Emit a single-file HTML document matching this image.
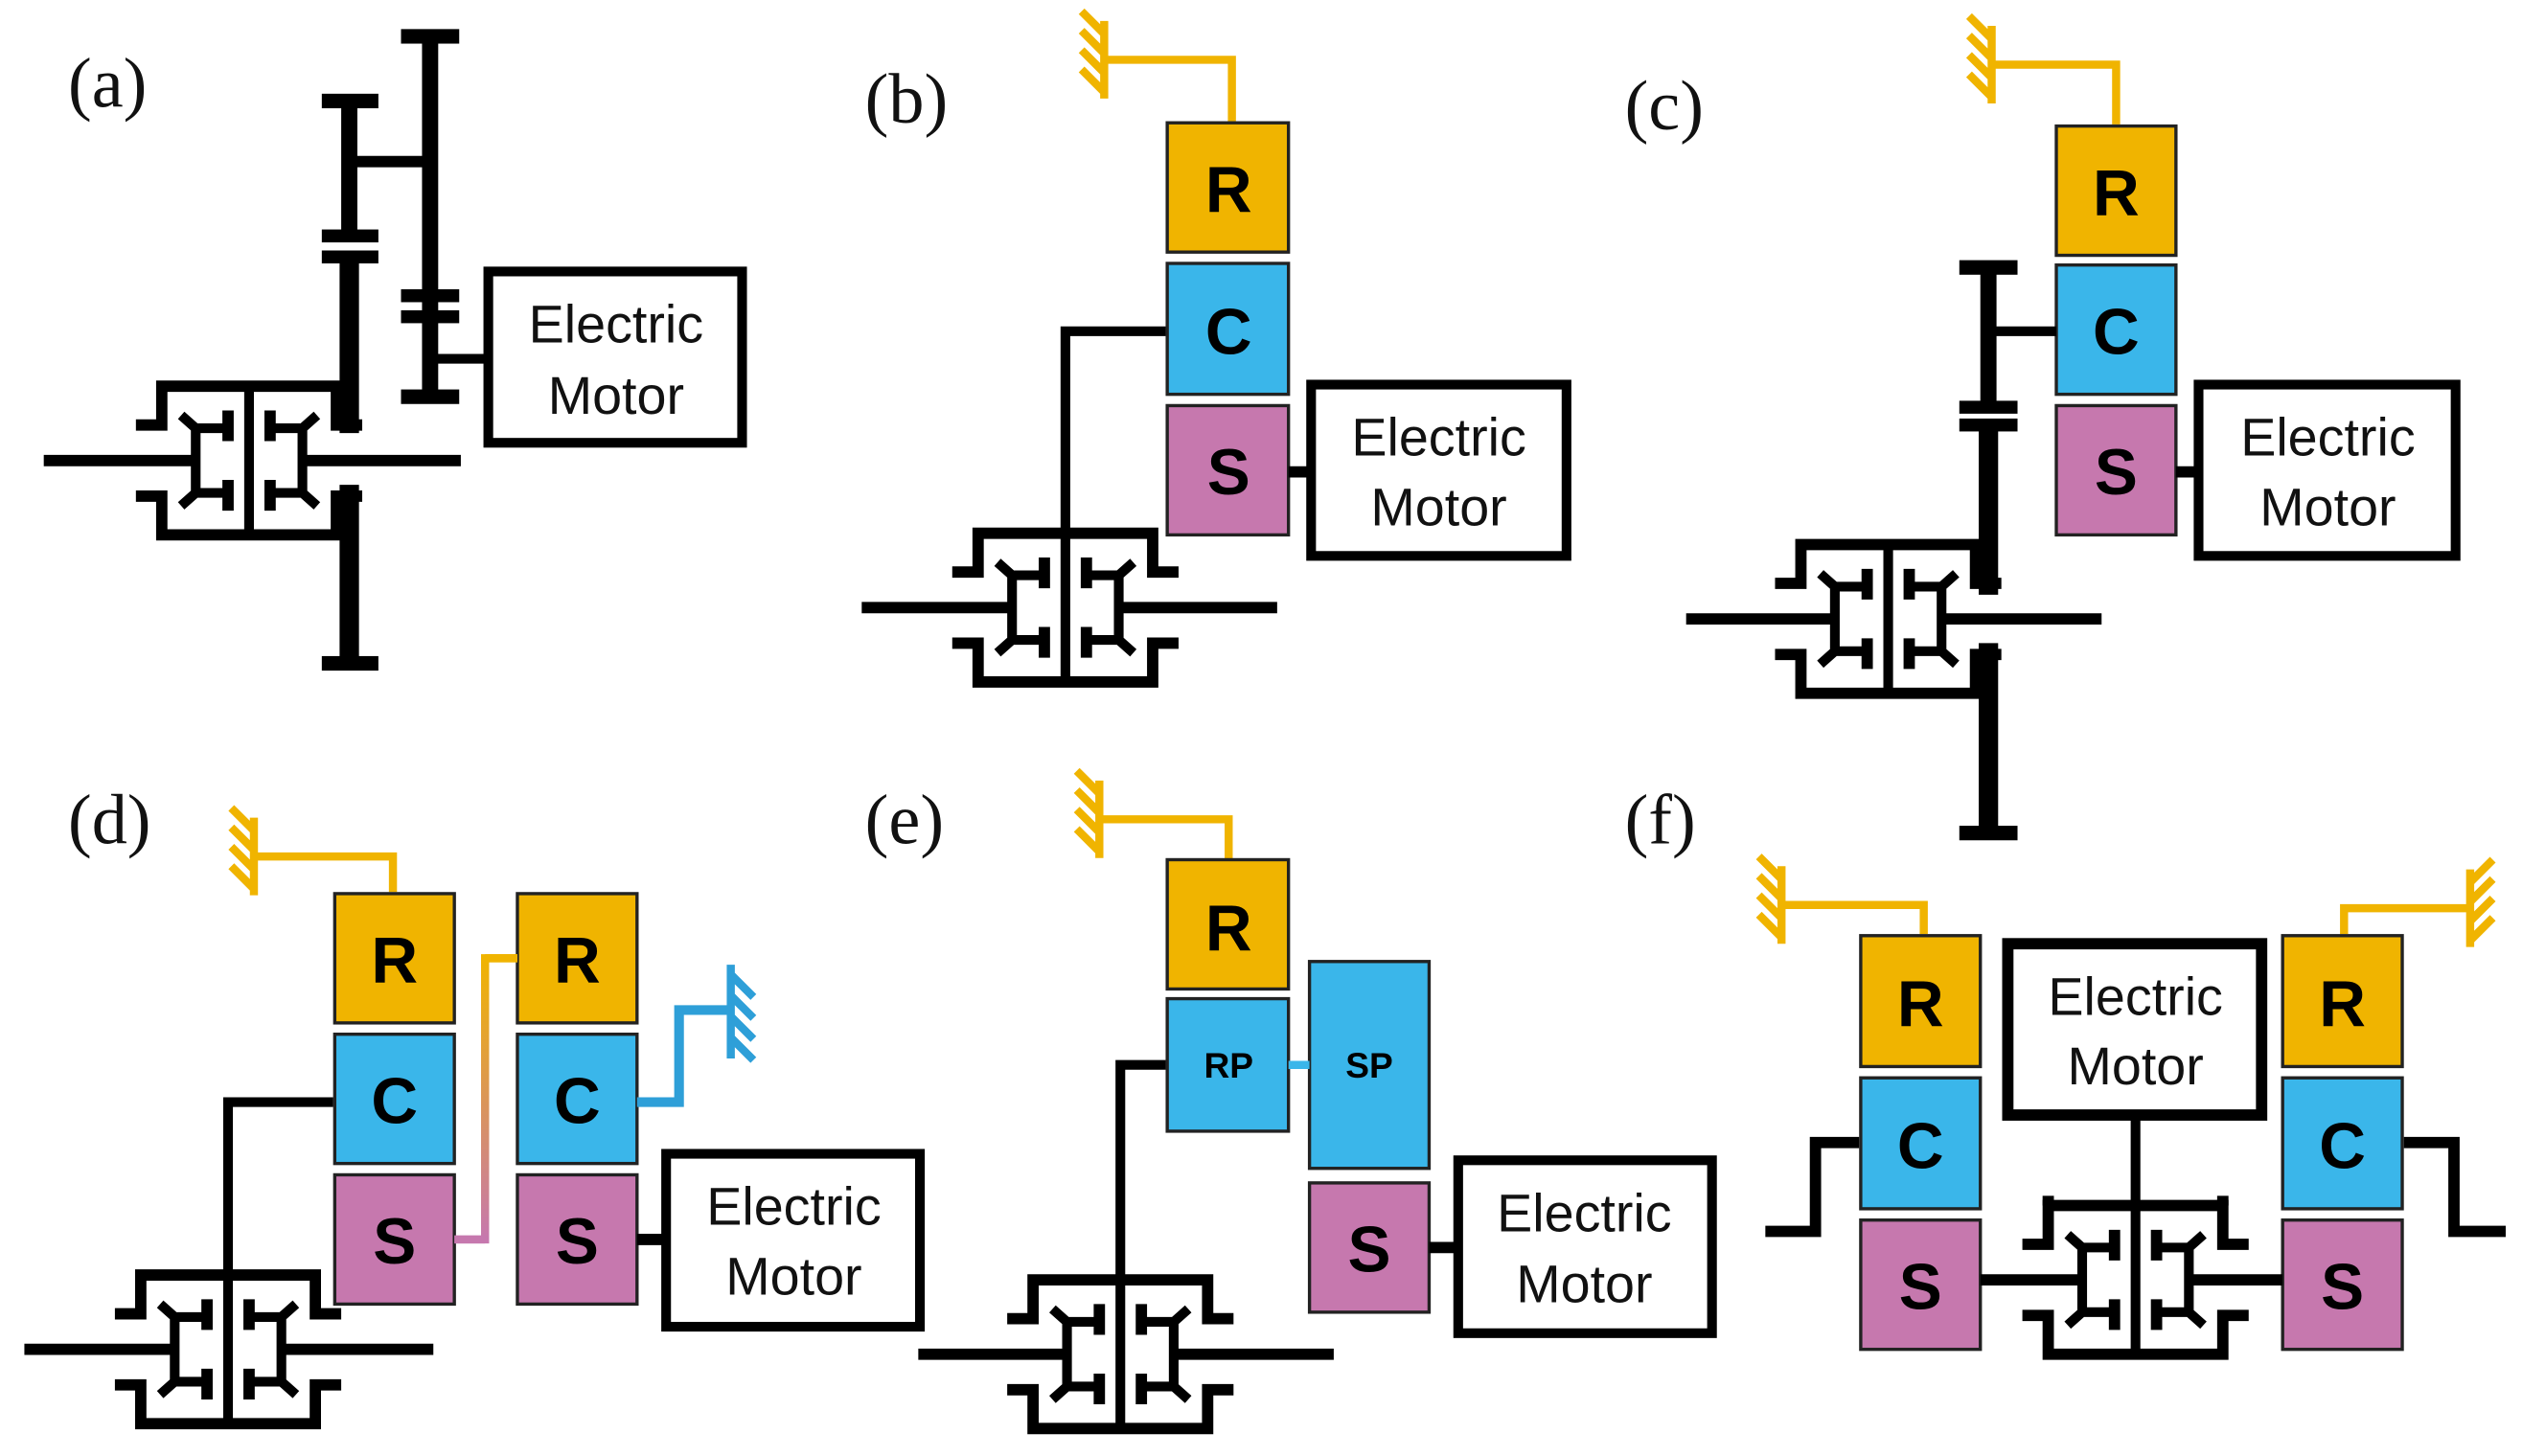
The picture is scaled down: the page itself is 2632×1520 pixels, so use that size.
<!DOCTYPE html>
<html><head><meta charset="utf-8"><style>
html,body{margin:0;padding:0;background:#fff;}
svg{display:block;}
.lbl{font-family:"Liberation Serif",serif;font-size:44px;fill:#111;}
.em{font-family:"Liberation Sans",sans-serif;font-size:33px;fill:#111;}
.L{font-family:"Liberation Sans",sans-serif;font-weight:bold;font-size:40px;fill:#000;}
.s{font-family:"Liberation Sans",sans-serif;font-weight:bold;font-size:22px;fill:#000;}
</style></head><body>
<svg width="2632" height="1520" viewBox="0 0 1560 901" xmlns="http://www.w3.org/2000/svg">
<defs>
<linearGradient id="gr" x1="0" y1="1" x2="0" y2="0">
<stop offset="0" stop-color="#C678AE"/><stop offset="1" stop-color="#F0B400"/></linearGradient>
<g id="dg" fill="none" stroke="#000">
 <path d="M-70,-22 H-54 V-46 H54 V-22 H70 M-70,22 H-54 V46 H54 V22 H70" stroke-width="7"/>
 <line x1="0" y1="-46" x2="0" y2="46" stroke-width="6"/>
 <g stroke-width="6">
  <path d="M-33,-22 V22 M-36,-20 H-15 M-36,20 H-15 M-33,-20 L-42,-28 M-33,20 L-42,28"/>
  <path d="M33,-22 V22 M36,-20 H15 M36,20 H15 M33,-20 L42,-28 M33,20 L42,28"/>
 </g>
 <g stroke-width="7">
  <path d="M-13,-31 V-12 M-13,31 V12 M13,-31 V-12 M13,31 V12"/>
 </g>
</g>
<g id="gy" fill="none" stroke="#F0B400" stroke-width="5">
 <path d="M0,-24 V24 M0,-16 L-14,-30 M0,-4 L-14,-18 M0,8 L-14,-6 M0,20 L-14,6"/>
</g>
</defs>

<text class="lbl" x="42" y="66">(a)</text>
<text class="lbl" x="535" y="76">(b)</text>
<text class="lbl" x="1005" y="80">(c)</text>
<text class="lbl" x="42" y="522">(d)</text>
<text class="lbl" x="535" y="522">(e)</text>
<text class="lbl" x="1005" y="522">(f)</text>

<!-- (a) -->
<g stroke="#000" fill="none">
 <line x1="27" y1="285" x2="121" y2="285" stroke-width="7"/>
 <line x1="187" y1="285" x2="285" y2="285" stroke-width="7"/>
 <line x1="216" y1="62" x2="216" y2="148" stroke-width="10"/>
 <line x1="216" y1="160" x2="216" y2="268" stroke-width="12"/>
 <line x1="216" y1="300" x2="216" y2="410" stroke-width="12"/>
 <line x1="266" y1="22" x2="266" y2="245" stroke-width="10"/>
 <line x1="216" y1="100" x2="266" y2="100" stroke-width="7"/>
 <line x1="266" y1="222" x2="300" y2="222" stroke-width="6"/>
 <rect x="302" y="168" width="157" height="106" stroke-width="6"/>
</g>
<g fill="#000">
 <rect x="199" y="58" width="35" height="9"/>
 <rect x="199" y="142" width="35" height="8"/>
 <rect x="199" y="155" width="35" height="8"/>
 <rect x="199" y="406" width="35" height="9"/>
 <rect x="248" y="18" width="36" height="9"/>
 <rect x="248" y="179" width="36" height="8"/>
 <rect x="248" y="192" width="36" height="8"/>
 <rect x="248" y="241" width="36" height="9"/>
</g>
<use href="#dg" x="154" y="285"/>
<text class="em" x="381" y="212" text-anchor="middle">Electric</text>
<text class="em" x="381" y="256" text-anchor="middle">Motor</text>

<!-- (b) -->
<use href="#gy" x="683" y="37"/>
<path d="M683,37 H762 V75" fill="none" stroke="#F0B400" stroke-width="5"/>
<g stroke="#222" stroke-width="2">
 <rect x="722" y="76" width="75" height="80" fill="#F0B400"/>
 <rect x="722" y="163" width="75" height="81" fill="#3AB6EA"/>
 <rect x="722" y="251" width="75" height="80" fill="#C678AE"/>
</g>
<text class="L" x="760" y="131" text-anchor="middle">R</text>
<text class="L" x="760" y="219" text-anchor="middle">C</text>
<text class="L" x="760" y="306" text-anchor="middle">S</text>
<g stroke="#000" fill="none">
 <path d="M721,205 H659 V330" stroke-width="6"/>
 <line x1="797" y1="292" x2="810" y2="292" stroke-width="7"/>
 <rect x="811" y="238" width="158" height="106" stroke-width="6"/>
 <line x1="533" y1="376" x2="626" y2="376" stroke-width="7"/>
 <line x1="692" y1="376" x2="790" y2="376" stroke-width="7"/>
</g>
<use href="#dg" x="659" y="376"/>
<text class="em" x="890" y="282" text-anchor="middle">Electric</text>
<text class="em" x="890" y="325" text-anchor="middle">Motor</text>

<!-- (c) -->
<use href="#gy" x="1232" y="40"/>
<path d="M1232,40 H1309 V77" fill="none" stroke="#F0B400" stroke-width="5"/>
<g stroke="#222" stroke-width="2">
 <rect x="1272" y="78" width="74" height="80" fill="#F0B400"/>
 <rect x="1272" y="164" width="74" height="80" fill="#3AB6EA"/>
 <rect x="1272" y="251" width="74" height="80" fill="#C678AE"/>
</g>
<text class="L" x="1309" y="133" text-anchor="middle">R</text>
<text class="L" x="1309" y="219" text-anchor="middle">C</text>
<text class="L" x="1309" y="306" text-anchor="middle">S</text>
<g stroke="#000" fill="none">
 <line x1="1230" y1="165" x2="1230" y2="252" stroke-width="10"/>
 <line x1="1230" y1="262" x2="1230" y2="368" stroke-width="12"/>
 <line x1="1230" y1="398" x2="1230" y2="515" stroke-width="12"/>
 <line x1="1230" y1="205" x2="1272" y2="205" stroke-width="6"/>
 <line x1="1346" y1="292" x2="1358" y2="292" stroke-width="7"/>
 <rect x="1360" y="238" width="159" height="106" stroke-width="6"/>
 <line x1="1043" y1="383" x2="1135" y2="383" stroke-width="7"/>
 <line x1="1201" y1="383" x2="1300" y2="383" stroke-width="7"/>
</g>
<g fill="#000">
 <rect x="1212" y="161" width="36" height="9"/>
 <rect x="1212" y="248" width="36" height="8"/>
 <rect x="1212" y="259" width="36" height="8"/>
 <rect x="1212" y="511" width="36" height="9"/>
</g>
<use href="#dg" x="1168" y="383"/>
<text class="em" x="1440" y="282" text-anchor="middle">Electric</text>
<text class="em" x="1440" y="325" text-anchor="middle">Motor</text>

<!-- (d) -->
<use href="#gy" x="157" y="530"/>
<path d="M157,530 H243 V552" fill="none" stroke="#F0B400" stroke-width="5"/>
<g stroke="#222" stroke-width="2">
 <rect x="207" y="553" width="74" height="80" fill="#F0B400"/>
 <rect x="207" y="640" width="74" height="80" fill="#3AB6EA"/>
 <rect x="207" y="727" width="74" height="80" fill="#C678AE"/>
 <rect x="320" y="553" width="74" height="80" fill="#F0B400"/>
 <rect x="320" y="640" width="74" height="80" fill="#3AB6EA"/>
 <rect x="320" y="727" width="74" height="80" fill="#C678AE"/>
</g>
<text class="L" x="244" y="608" text-anchor="middle">R</text>
<text class="L" x="244" y="695" text-anchor="middle">C</text>
<text class="L" x="244" y="782" text-anchor="middle">S</text>
<text class="L" x="357" y="608" text-anchor="middle">R</text>
<text class="L" x="357" y="695" text-anchor="middle">C</text>
<text class="L" x="357" y="782" text-anchor="middle">S</text>
<path d="M281,767 H300 V593 H320" fill="none" stroke="url(#gr)" stroke-width="5"/>
<path d="M281,767 H300" stroke="#C678AE" stroke-width="5"/>
<path d="M300,593 H320" stroke="#F0B400" stroke-width="5"/>
<path d="M394,682 H420 V625 H452" fill="none" stroke="#2E9FD8" stroke-width="6"/>
<g fill="none" stroke="#2E9FD8" stroke-width="5">
 <path d="M452,597 V655 M452,603 L466,617 M452,616 L466,630 M452,629 L466,643 M452,642 L466,656"/>
</g>
<g stroke="#000" fill="none">
 <path d="M206,682 H141 V790" stroke-width="6"/>
 <line x1="394" y1="767" x2="410" y2="767" stroke-width="7"/>
 <rect x="412" y="714" width="157" height="107" stroke-width="6"/>
 <line x1="15" y1="835" x2="108" y2="835" stroke-width="7"/>
 <line x1="174" y1="835" x2="268" y2="835" stroke-width="7"/>
</g>
<use href="#dg" x="141" y="835"/>
<text class="em" x="491" y="758" text-anchor="middle">Electric</text>
<text class="em" x="491" y="801" text-anchor="middle">Motor</text>

<!-- (e) -->
<use href="#gy" x="680" y="507"/>
<path d="M680,507 H760 V532" fill="none" stroke="#F0B400" stroke-width="5"/>
<g stroke="#222" stroke-width="2">
 <rect x="722" y="532" width="75" height="80" fill="#F0B400"/>
 <rect x="722" y="618" width="75" height="82" fill="#3AB6EA"/>
 <rect x="810" y="595" width="74" height="128" fill="#3AB6EA"/>
 <rect x="810" y="732" width="74" height="80" fill="#C678AE"/>
</g>
<line x1="797" y1="659" x2="810" y2="659" stroke="#3AB6EA" stroke-width="5"/>
<text class="L" x="760" y="588" text-anchor="middle">R</text>
<text class="s" x="760" y="667" text-anchor="middle">RP</text>
<text class="s" x="847" y="667" text-anchor="middle">SP</text>
<text class="L" x="847" y="787" text-anchor="middle">S</text>
<g stroke="#000" fill="none">
 <path d="M721,659 H693 V792" stroke-width="6"/>
 <line x1="884" y1="772" x2="900" y2="772" stroke-width="7"/>
 <rect x="902" y="718" width="157" height="107" stroke-width="6"/>
 <line x1="568" y1="838" x2="660" y2="838" stroke-width="7"/>
 <line x1="726" y1="838" x2="825" y2="838" stroke-width="7"/>
</g>
<use href="#dg" x="693" y="838"/>
<text class="em" x="980" y="762" text-anchor="middle">Electric</text>
<text class="em" x="980" y="806" text-anchor="middle">Motor</text>

<!-- (f) -->
<use href="#gy" x="1102" y="560"/>
<path d="M1102,560 H1190 V578" fill="none" stroke="#F0B400" stroke-width="5"/>
<use href="#gy" transform="translate(1528,562) scale(-1,1)"/>
<path d="M1528,562 H1450 V578" fill="none" stroke="#F0B400" stroke-width="5"/>
<g stroke="#222" stroke-width="2">
 <rect x="1151" y="579" width="74" height="81" fill="#F0B400"/>
 <rect x="1151" y="667" width="74" height="81" fill="#3AB6EA"/>
 <rect x="1151" y="755" width="74" height="80" fill="#C678AE"/>
 <rect x="1412" y="579" width="74" height="81" fill="#F0B400"/>
 <rect x="1412" y="667" width="74" height="81" fill="#3AB6EA"/>
 <rect x="1412" y="755" width="74" height="80" fill="#C678AE"/>
</g>
<text class="L" x="1188" y="635" text-anchor="middle">R</text>
<text class="L" x="1188" y="723" text-anchor="middle">C</text>
<text class="L" x="1188" y="810" text-anchor="middle">S</text>
<text class="L" x="1449" y="635" text-anchor="middle">R</text>
<text class="L" x="1449" y="723" text-anchor="middle">C</text>
<text class="L" x="1449" y="810" text-anchor="middle">S</text>
<g stroke="#000" fill="none">
 <path d="M1150,707 H1123 V762 H1092" stroke-width="7"/>
 <path d="M1487,707 H1518 V762 H1550" stroke-width="7"/>
 <rect x="1242" y="584" width="157" height="106" stroke-width="7"/>
 <line x1="1321" y1="690" x2="1321" y2="746" stroke-width="6"/>
 <line x1="1225" y1="792" x2="1288" y2="792" stroke-width="7"/>
 <line x1="1354" y1="792" x2="1412" y2="792" stroke-width="7"/>
 <path d="M1267,740 V746 M1375,740 V746" stroke-width="7"/>
</g>
<use href="#dg" x="1321" y="792"/>
<text class="em" x="1321" y="628" text-anchor="middle">Electric</text>
<text class="em" x="1321" y="671" text-anchor="middle">Motor</text>
</svg>
</body></html>
